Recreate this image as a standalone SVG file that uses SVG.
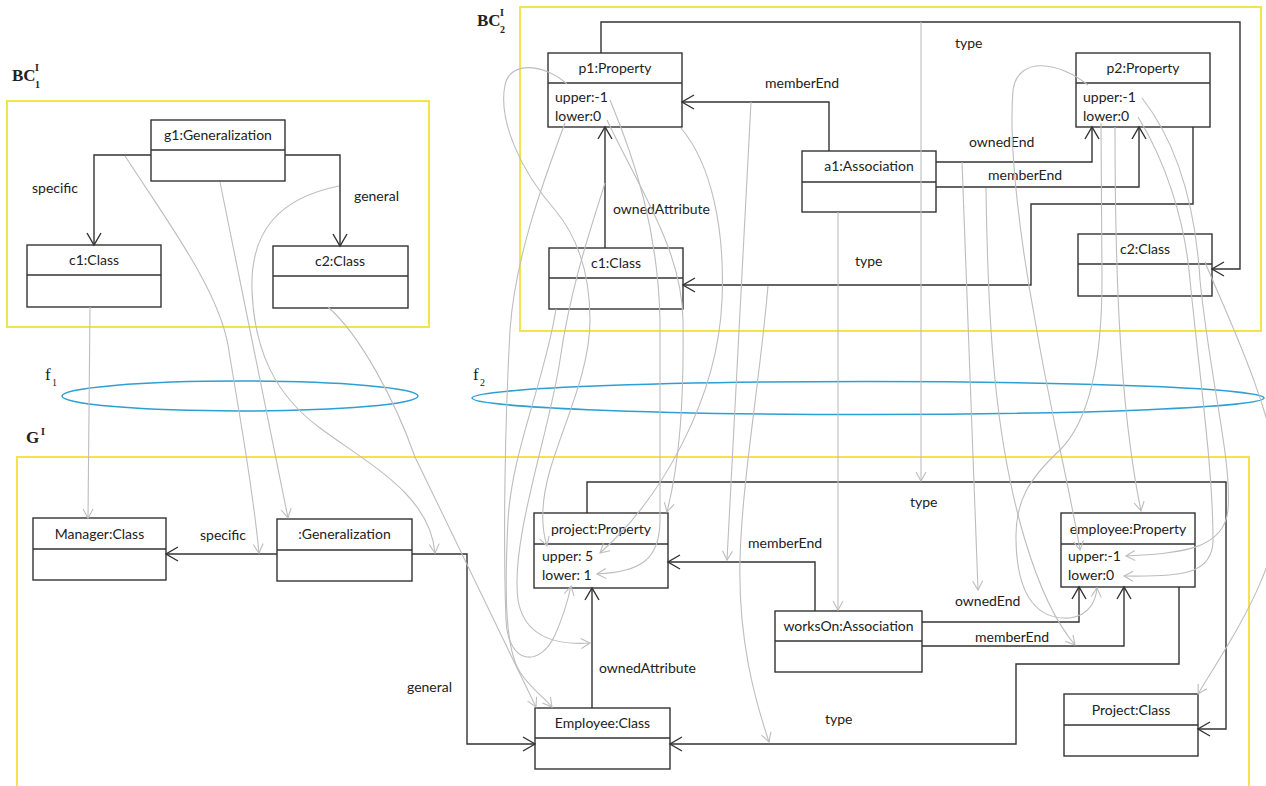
<svg xmlns="http://www.w3.org/2000/svg" width="1266" height="786" viewBox="0 0 1266 786">
<style>
.frame{fill:none;stroke:#f3e44e;stroke-width:2}
.ell{fill:none;stroke:#2c9fd4;stroke-width:1.5}
.box{fill:#fff;stroke:#333;stroke-width:1.4}
.div{stroke:#333;stroke-width:1.4}
.t{font-family:Lato,"Open Sans",sans-serif;font-size:14px;fill:#222}
.c{text-anchor:middle}
.math{font-family:"Liberation Serif",serif;font-weight:bold;font-size:17px;fill:#222}
.fn{font-family:"Liberation Serif",serif;font-size:17px;fill:#222}
.sub{font-size:10px}
.conn{fill:none;stroke:#333;stroke-width:1.4;marker-end:url(#ab)}
.map{fill:none;stroke:#bdbdbd;stroke-width:1.1;marker-end:url(#ag)}
</style>
<defs>
<marker id="ab" markerUnits="userSpaceOnUse" markerWidth="30" markerHeight="30" viewBox="-15 -15 30 30" refX="0" refY="0" orient="auto" overflow="visible"><path d="M-12,-7 L0,0 L-12,7" fill="none" stroke="#333" stroke-width="1.4"/></marker>
<marker id="ag" markerUnits="userSpaceOnUse" markerWidth="24" markerHeight="24" viewBox="-12 -12 24 24" refX="0" refY="0" orient="auto" overflow="visible"><path d="M-9,-5 L0,0 L-9,5" fill="none" stroke="#bdbdbd" stroke-width="1.1"/></marker>
</defs>
<rect width="1266" height="786" fill="#fff"/>

<g id="frames">
<rect class="frame" x="7" y="101" width="422" height="226"/>
<rect class="frame" x="520" y="7" width="741" height="324"/>
<rect class="frame" x="17" y="457" width="1232" height="345"/>
<ellipse class="ell" cx="240" cy="396" rx="178" ry="15"/>
<ellipse class="ell" cx="868" cy="398" rx="396" ry="16.5"/>
<text class="math" x="12" y="81">BC</text>
<text class="math sub" x="35" y="71">I</text>
<text class="math sub" x="35" y="88">1</text>
<text class="math" x="477" y="26">BC</text>
<text class="math sub" x="500" y="16">I</text>
<text class="math sub" x="500" y="33">2</text>
<text class="math" x="26" y="443">G</text>
<text class="math sub" x="41" y="435">I</text>
<text class="fn" x="45" y="380">f</text>
<text class="fn sub" x="52" y="386">1</text>
<text class="fn" x="473" y="380">f</text>
<text class="fn sub" x="480" y="386">2</text>
</g>

<g id="n-g1"><rect class="box" x="151" y="120" width="134" height="61"/><line class="div" x1="151" y1="150" x2="285" y2="150"/><text class="t c" x="218" y="140">g1:Generalization</text></g>
<g id="n-c1a"><rect class="box" x="27" y="245" width="134" height="62"/><line class="div" x1="27" y1="275" x2="161" y2="275"/><text class="t c" x="94" y="265">c1:Class</text></g>
<g id="n-c2a"><rect class="box" x="273" y="246" width="135" height="62"/><line class="div" x1="273" y1="276" x2="408" y2="276"/><text class="t c" x="340" y="266">c2:Class</text></g>

<g id="n-p1"><rect class="box" x="548" y="53" width="134" height="74"/><line class="div" x1="548" y1="83" x2="682" y2="83"/><text class="t c" x="615" y="73">p1:Property</text><text class="t" x="555" y="102">upper:-1</text><text class="t" x="555" y="121">lower:0</text></g>
<g id="n-a1"><rect class="box" x="802" y="151" width="134" height="61"/><line class="div" x1="802" y1="182" x2="936" y2="182"/><text class="t c" x="869" y="171">a1:Association</text></g>
<g id="n-c1b"><rect class="box" x="549" y="248" width="134" height="61"/><line class="div" x1="549" y1="278" x2="683" y2="278"/><text class="t c" x="616" y="268">c1:Class</text></g>
<g id="n-p2"><rect class="box" x="1076" y="53" width="134" height="74"/><line class="div" x1="1076" y1="83" x2="1210" y2="83"/><text class="t c" x="1143" y="73">p2:Property</text><text class="t" x="1083" y="102">upper:-1</text><text class="t" x="1083" y="121">lower:0</text></g>
<g id="n-c2b"><rect class="box" x="1078" y="234" width="134" height="62"/><line class="div" x1="1078" y1="264" x2="1212" y2="264"/><text class="t c" x="1145" y="254">c2:Class</text></g>

<g id="n-manager"><rect class="box" x="33" y="518" width="133" height="62"/><line class="div" x1="33" y1="549" x2="166" y2="549"/><text class="t c" x="99.5" y="539">Manager:Class</text></g>
<g id="n-gen"><rect class="box" x="277" y="519" width="135" height="62"/><line class="div" x1="277" y1="550" x2="412" y2="550"/><text class="t c" x="344.5" y="539">:Generalization</text></g>
<g id="n-project"><rect class="box" x="534" y="513" width="134" height="75"/><line class="div" x1="534" y1="544" x2="668" y2="544"/><text class="t c" x="601" y="534">project:Property</text><text class="t" x="542" y="561">upper: 5</text><text class="t" x="542" y="580">lower: 1</text></g>
<g id="n-employee"><rect class="box" x="1061" y="513" width="134" height="74"/><line class="div" x1="1061" y1="544" x2="1195" y2="544"/><text class="t c" x="1128" y="534">employee:Property</text><text class="t" x="1068" y="561">upper:-1</text><text class="t" x="1068" y="580">lower:0</text></g>
<g id="n-worksOn"><rect class="box" x="775" y="611" width="147" height="61"/><line class="div" x1="775" y1="641" x2="922" y2="641"/><text class="t c" x="848.5" y="631">worksOn:Association</text></g>
<g id="n-Employee"><rect class="box" x="535" y="708" width="135" height="61"/><line class="div" x1="535" y1="738" x2="670" y2="738"/><text class="t c" x="602.5" y="728">Employee:Class</text></g>
<g id="n-Project"><rect class="box" x="1064" y="694" width="134" height="62"/><line class="div" x1="1064" y1="725" x2="1198" y2="725"/><text class="t c" x="1131" y="715">Project:Class</text></g>

<g id="connectors">
<path class="conn" d="M151,155 H94 V245"/>
<path class="conn" d="M285,155 H340 V246"/>
<path class="conn" d="M829,151 V102 H682"/>
<path class="conn" d="M605,248 V127"/>
<path class="conn" d="M601,53 V22 H1240 V269 H1212"/>
<path class="conn" d="M936,162 H1092 V127"/>
<path class="conn" d="M936,187 H1139 V127"/>
<path class="conn" d="M1193,127 V204 H1031 V285 H683"/>
<path class="conn" d="M277,554 H166"/>
<path class="conn" d="M412,554 H467 V744 H535"/>
<path class="conn" d="M592,708 V588"/>
<path class="conn" d="M587,513 V482 H1226 V729 H1198"/>
<path class="conn" d="M815,611 V562 H668"/>
<path class="conn" d="M922,622 H1079 V587"/>
<path class="conn" d="M922,646 H1124 V587"/>
<path class="conn" d="M1179,587 V664 H1016 V744 H670"/>
<text class="t" x="32" y="193">specific</text>
<text class="t" x="354" y="201">general</text>
<text class="t" x="765" y="88">memberEnd</text>
<text class="t" x="613" y="214">ownedAttribute</text>
<text class="t" x="955" y="48">type</text>
<text class="t" x="969" y="147">ownedEnd</text>
<text class="t" x="988" y="180">memberEnd</text>
<text class="t" x="855" y="266">type</text>
<text class="t" x="200" y="540">specific</text>
<text class="t" x="407" y="692">general</text>
<text class="t" x="748" y="548">memberEnd</text>
<text class="t" x="910" y="507">type</text>
<text class="t" x="955" y="606">ownedEnd</text>
<text class="t" x="975" y="642">memberEnd</text>
<text class="t" x="599" y="673">ownedAttribute</text>
<text class="t" x="825" y="724">type</text>
</g>

<g id="mappings">
<path class="map" d="M90,307 L88,518"/>
<path class="map" d="M125,156 C170,225 218,290 228,345 C240,420 252,480 259,553"/>
<path class="map" d="M220,182 L288,518"/>
<path class="map" d="M339,186 C280,198 250,230 252,290 C254,350 275,395 320,428 C370,465 430,495 435,553"/>
<path class="map" d="M328,307 C360,335 395,400 415,457 L536,707"/>
<path class="map" d="M567,84 C545,64 510,60 505,85 C498,120 520,170 555,210 C580,240 590,280 590,320 C590,370 565,420 550,470 C540,505 542,530 547,546"/>
<path class="map" d="M565,123 C540,190 515,260 510,330 C505,420 503,540 506,620 C508,665 540,668 555,635 C563,617 568,600 571,586"/>
<path class="map" d="M605,183 C590,230 570,290 560,360 C550,430 510,540 518,600 C525,640 560,645 590,643"/>
<path class="map" d="M556,309 C545,380 512,450 508,520 C504,600 506,650 520,672 C530,688 545,698 552,707"/>
<path class="map" d="M681,128 C712,165 725,230 722,300 C718,400 660,500 600,553"/>
<path class="map" d="M610,100 C635,160 658,230 660,320 L660,520 C660,560 640,572 597,574"/>
<path class="map" d="M607,120 C640,190 682,250 683,320 C684,400 680,460 667,512"/>
<path class="map" d="M751,102 L727,560"/>
<path class="map" d="M768,286 C760,380 742,480 740,560 C738,640 755,700 769,742"/>
<path class="map" d="M838,212 L838,610"/>
<path class="map" d="M921,22 L921,481"/>
<path class="map" d="M962,162 L978,590"/>
<path class="map" d="M986,188 C988,330 995,440 1025,540 C1040,590 1058,625 1075,645"/>
<path class="map" d="M1115,127 C1115,250 1118,400 1141,511"/>
<path class="map" d="M1101,123 L1102,280 C1102,360 1090,420 1060,450 C1030,478 1015,500 1016,540 C1017,600 1040,620 1070,618 C1090,615 1096,600 1097,588"/>
<path class="map" d="M1088,85 C1060,62 1018,55 1013,90 C1008,150 1022,250 1035,320 C1050,410 1070,490 1080,550"/>
<path class="map" d="M1142,98 C1175,140 1195,200 1200,280 C1210,380 1232,460 1228,510 C1224,550 1180,553 1126,556"/>
<path class="map" d="M1138,117 C1165,160 1185,220 1190,280 C1200,380 1213,470 1213,540 C1213,575 1180,577 1124,576"/>
<path class="map" d="M1205,262 C1220,300 1270,400 1280,480 C1288,560 1230,640 1198,694"/>
</g>
</svg>
